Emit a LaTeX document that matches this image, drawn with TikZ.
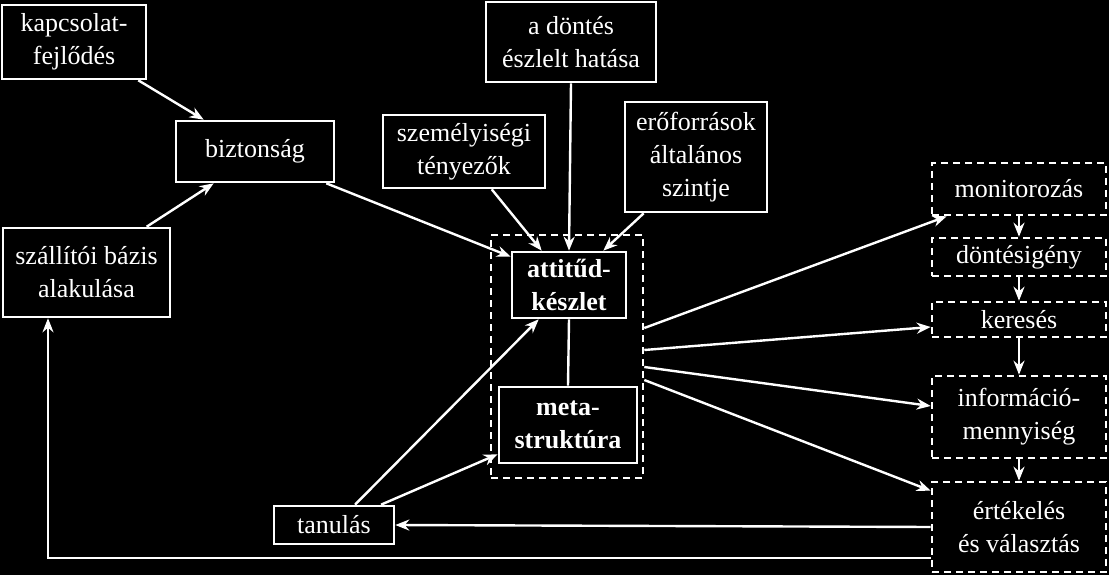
\documentclass[tikz,border=0pt]{standalone}
\usepackage{fontspec}
\setmainfont{Liberation Serif}
\usetikzlibrary{arrows.meta}
\begin{document}
\begin{tikzpicture}[x=1pt,y=-1pt,
  box/.style={draw=white,line width=2.6pt,fill=black,text=white,inner sep=0pt,align=center,
    font=\fontsize{26}{33}\selectfont},
  dbox/.style={box,dash pattern=on 7pt off 5pt},
  conn/.style={draw=white,line width=2.4pt},
  arr/.style={conn,-{Stealth[length=14pt,width=11pt]}}]
\fill[black] (0,0) rectangle (1109,575);
\useasboundingbox (0,0) rectangle (1109,575);
% left boxes
\node[box,minimum width=144pt,minimum height=74pt] (kap) at (74,42) {kapcsolat-\\fejlődés};
\node[box,minimum width=158pt,minimum height=61pt] (biz) at (255,151.5) {biztonság};
\node[box,minimum width=167pt,minimum height=89pt] (szal) at (86.5,272.5) {szállítói bázis\\alakulása};
\node[box,minimum width=170pt,minimum height=80pt] (dont) at (571,42) {a döntés\\észlelt hatása};
\node[box,minimum width=162pt,minimum height=73pt] (szem) at (464,151.5) {személyiségi\\tényezők};
\node[box,minimum width=142pt,minimum height=110pt] (ero) at (696,157) {erőforrások\\általános\\szintje};
% central group
\node[dbox,minimum width=152pt,minimum height=243pt] (outer) at (567,356.5) {};
\node[box,minimum width=114pt,minimum height=66pt,font=\fontsize{26}{33}\selectfont\bfseries] (att) at (569,285) {attitűd-\\készlet};
\node[box,minimum width=138pt,minimum height=76pt,font=\fontsize{26}{33}\selectfont\bfseries] (meta) at (568,425) {meta-\\struktúra};
\node[box,minimum width=120pt,minimum height=38pt] (tan) at (334,525) {tanulás};
% right column
\node[dbox,minimum width=174pt,minimum height=52pt] (mon) at (1019,189) {monitorozás};
\node[dbox,minimum width=174pt,minimum height=38pt] (dig) at (1019,257) {döntésigény};
\node[dbox,minimum width=174pt,minimum height=35pt] (ker) at (1019,319.5) {keresés};
\node[dbox,minimum width=174pt,minimum height=82pt] (info) at (1019,417) {információ-\\mennyiség};
\node[dbox,minimum width=174pt,minimum height=90pt] (ert) at (1019,527) {értékelés\\és választás};
\coordinate (corner) at (48,558);
% connectors
\draw[arr] ([xshift=-9pt]kap.south east) -- ([xshift=29pt]biz.north west);
\draw[arr] ([xshift=145pt]szal.north west) -- ([xshift=39pt]biz.south west);
\draw[arr] ([xshift=-9pt]biz.south east) -- ([yshift=-6pt]att.north west);
\draw[arr] ([xshift=110pt]szem.south west) -- ([xshift=31pt]att.north west);
\draw[arr] (dont.south) -- (att.north);
\draw[arr] ([xshift=20pt]ero.south west) -- ([xshift=-24pt]att.north east);
\draw[arr] ([xshift=21pt]tan.north) -- ([xshift=28pt]att.south west);
\draw[arr] ([xshift=47pt]tan.north) -- ([yshift=10pt]meta.south west);
\draw[conn] (att.south) -- (meta.north);
\draw[arr] ([yshift=28.5pt]outer.east) -- ([xshift=16pt]mon.south west);
\draw[arr] ([yshift=6.5pt]outer.east) -- ([yshift=-7.5pt]ker.west);
\draw[arr] ([yshift=-10.5pt]outer.east) -- ([yshift=11pt]info.west);
\draw[arr] ([yshift=-23.5pt]outer.east) -- ([yshift=-10pt]ert.north west);
\draw[arr] (mon) -- (dig);
\draw[arr] (dig) -- (ker);
\draw[arr] (ker) -- (info);
\draw[arr] (info) -- (ert);
\draw[arr] (ert.west) -- (tan.east);
\draw[arr] ([yshift=-31pt]ert.west) -- (corner) -- (szal.south west -| corner);
\end{tikzpicture}
\end{document}
